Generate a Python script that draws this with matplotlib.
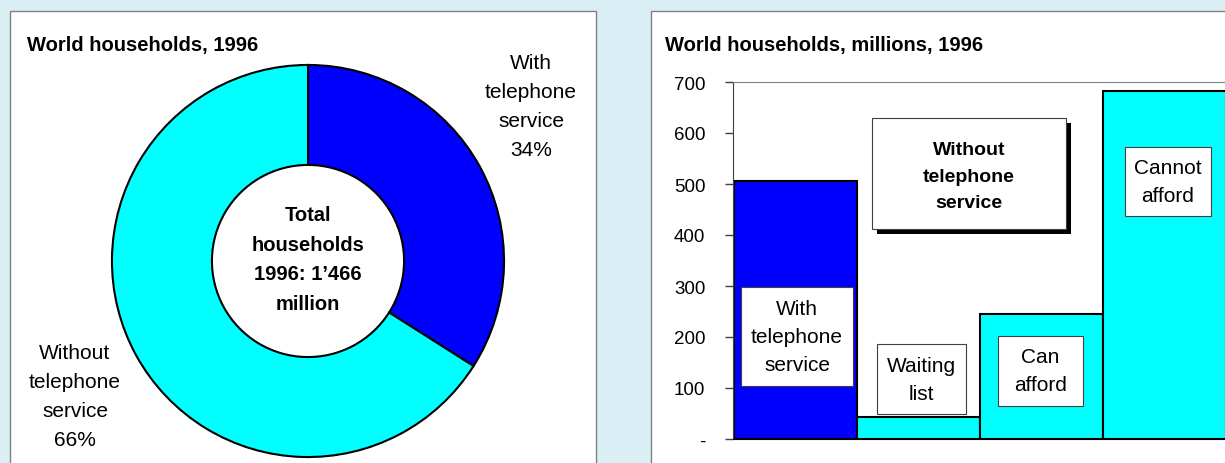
import matplotlib
matplotlib.use("Agg")
from matplotlib import pyplot as plt
from matplotlib.patches import Rectangle

W, H = 1225, 464

# left chart: share of world households, 1996
pie_labels = ['With\ntelephone\nservice\n34%', 'Without\ntelephone\nservice\n66%']
pie_shares = [34, 66]
pie_colors = ['#0000ff', '#00ffff']
center_text = 'Total\nhouseholds\n1996: 1\u2019466\nmillion'

# right chart: world households, millions, 1996
bar_names = ['With\ntelephone\nservice', 'Waiting\nlist', 'Can\nafford', 'Cannot\nafford']
bar_values = [505, 43, 246, 682]
bar_colors = ['#0000ff', '#00ffff', '#00ffff', '#00ffff']
y_ticks = [0, 100, 200, 300, 400, 500, 600, 700]
y_tick_labels = ['-', '100', '200', '300', '400', '500', '600', '700']

plt.rcParams['font.family'] = ['Liberation Sans', 'DejaVu Sans']

BG = '#d9eef5'
fig = plt.figure(figsize=(W / 100, H / 100), dpi=100, facecolor=BG)


def fx(x):
    return x / W


def fy(y):
    return 1 - y / H


def px_axes(x0, y0, x1, y1):
    # axes from pixel box (top-left origin)
    return fig.add_axes([fx(x0), fy(y1), fx(x1) - fx(x0), fy(y0) - fy(y1)])


def px_box(x0, y0, x1, y1, **kw):
    r = Rectangle((fx(x0), fy(y1)), fx(x1) - fx(x0), fy(y0) - fy(y1),
                  transform=fig.transFigure, **kw)
    fig.add_artist(r)
    return r


# white panels
for x0, x1 in [(10, 596), (651, 1260)]:
    px_box(x0, 12, x1, 480, facecolor='white', edgecolor='#808080', linewidth=1, zorder=0)

# ---- left panel: donut
fig.text(fx(27), fy(46), 'World households, 1996', fontsize=14.5, fontweight='bold',
         ha='left', va='center')

cx, cy, rad = 308, 262, 198
ax1 = px_axes(cx - rad, cy - rad, cx + rad, cy + rad)
ax1.pie(pie_shares, colors=pie_colors, startangle=90, counterclock=False,
        wedgeprops=dict(width=0.51, edgecolor='black', linewidth=1.5))
ax1.set_xlim(-1.01, 1.01)
ax1.set_ylim(-1.01, 1.01)
ax1.set_aspect('auto')
ax1.axis('off')
ax1.patch.set_visible(False)
ax1.text(0, 0.01, center_text, ha='center', va='center', fontsize=14.5, fontweight='bold',
         linespacing=1.7)

fig.text(fx(531), fy(107), pie_labels[0], ha='center', va='center', fontsize=15, linespacing=1.66)
fig.text(fx(75), fy(397), pie_labels[1], ha='center', va='center', fontsize=15, linespacing=1.66)

# ---- right panel: bars
fig.text(fx(665), fy(46), 'World households, millions, 1996', fontsize=14.5, fontweight='bold',
         ha='left', va='center')

unit = 123
x_start = 734
left_px, right_px = 733, 1240
ax2 = px_axes(left_px, 83, right_px, 440)
ax2.bar(range(len(bar_values)), bar_values, width=1, align='edge', color=bar_colors,
        edgecolor='black', linewidth=1.5, zorder=2)
ax2.set_xlim(-(x_start - left_px) / unit, (right_px - x_start) / unit)
ax2.set_ylim(0, 700)
ax2.set_yticks(y_ticks)
ax2.set_yticklabels(y_tick_labels, fontsize=13.5)
ax2.set_xticks([])
ax2.tick_params(axis='y', direction='out', length=6, width=1, color='#404040', pad=14)
ax2.spines['left'].set_color('#404040')
ax2.spines['top'].set_color('#808080')
ax2.spines['bottom'].set_color('black')
ax2.spines['right'].set_visible(False)
ax2.patch.set_visible(False)

# label boxes inside bars (pixel boxes)
label_boxes = [(741, 288, 853, 387), (877, 345, 966, 415), (998, 337, 1083, 407), (1125, 148, 1211, 217)]
for name, (x0, y0, x1, y1) in zip(bar_names, label_boxes):
    px_box(x0, y0, x1, y1, facecolor='white', edgecolor='#404040', linewidth=0.8, zorder=5)
    fig.text(fx((x0 + x1) / 2), fy((y0 + y1) / 2), name, ha='center', va='center',
             fontsize=15, linespacing=1.6, zorder=6)

# "Without telephone service" box with shadow
px_box(877, 124, 1071, 235, facecolor='black', edgecolor='black', linewidth=0, zorder=5)
px_box(872, 119, 1066, 230, facecolor='white', edgecolor='#404040', linewidth=0.8, zorder=6)
fig.text(fx(969), fy(177), 'Without\ntelephone\nservice', ha='center', va='center',
         fontsize=14, fontweight='bold', linespacing=1.75, zorder=7)

plt.savefig('out.png', dpi=100, facecolor=BG)
